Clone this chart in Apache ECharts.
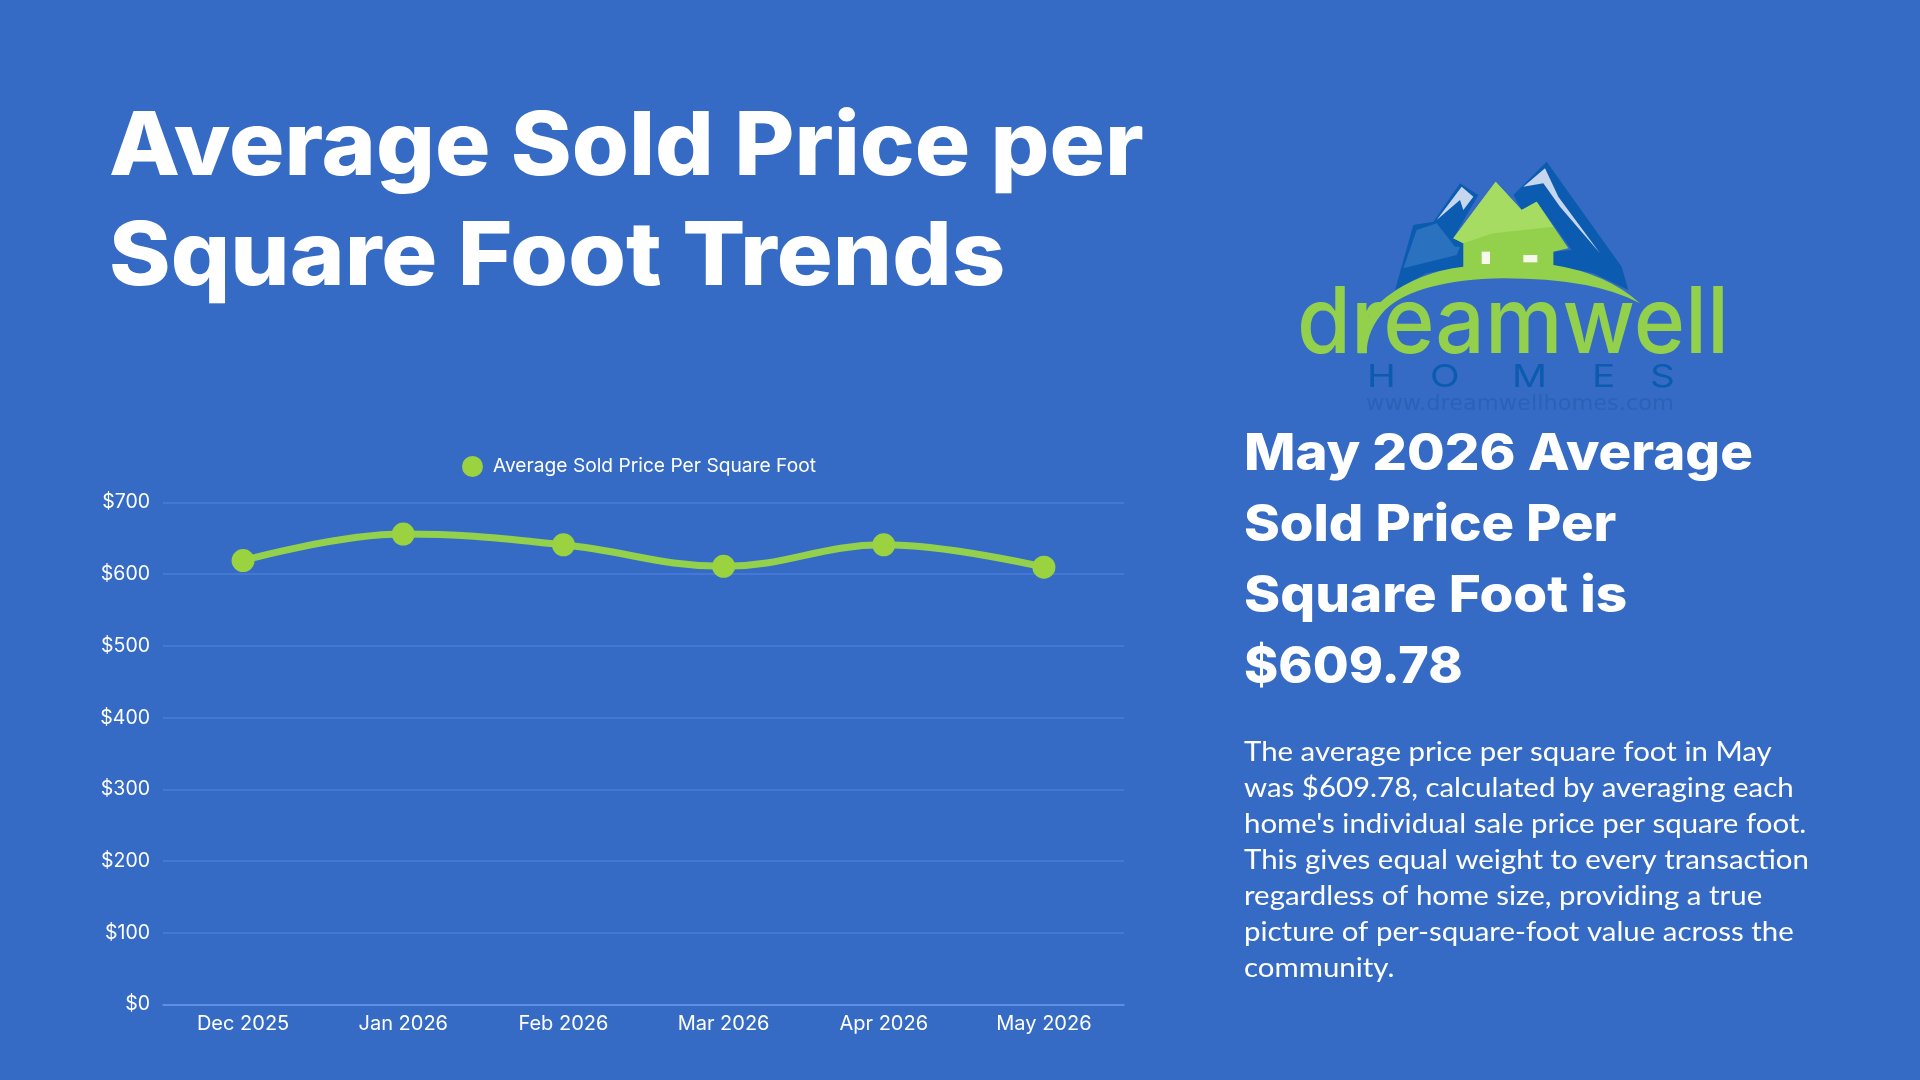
<!DOCTYPE html>
<html><head><meta charset="utf-8">
<script src="https://cdn.jsdelivr.net/npm/echarts@6/dist/echarts.min.js"></script>
<style>html,body{margin:0;padding:0;background:#356BC4;overflow:hidden}#c{width:1920px;height:1080px}</style>
</head><body><div id="c"></div>
<script>
const categories = ['Dec 2025','Jan 2026','Feb 2026','Mar 2026','Apr 2026','May 2026'];
const seriesName = 'Average Sold Price Per Square Foot';
const priceValues = [619, 656, 641, 611, 641, 609.78];
const titleLines = ['Average Sold Price per','Square Foot Trends'];
const headingLines = ['May 2026 Average','Sold Price Per','Square Foot is','$609.78'];
const bodyLines = ['The average price per square foot in May','was $609.78, calculated by averaging each',"home's individual sale price per square foot.",'This gives equal weight to every transaction','regardless of home size, providing a true','picture of per-square-foot value across the','community.'];
const titleWiden=[1.05,1.062], headingWiden=[1.07,1.065,1.075,1.02];
const GREEN='#93D14C', BLUE='#0B5CB0';

echarts.graphic.registerShape('logoSwoosh', echarts.graphic.extendPath('M707 125 L785 210 L830 185 L925 325 L880 335 L880 375 Q1040 400 1140 490 Q1000 415 730 415 Q470 420 375 510 Q320 570 320 640 L295 640 Q290 540 380 470 Q480 395 610 380 L610 310 L580 295 Z',{}));

function textEl(text,x,y,font,fill,sx){return {type:'text',x:x,y:y,scaleX:sx||1,style:{text:text,x:0,y:0,font:font,fill:fill,textVerticalAlign:'middle',textBaseline:'middle'}};}
const graphics=[];
titleLines.forEach((t,i)=>graphics.push(textEl(t,109,149+i*110,'800 88px Inter','#fff',titleWiden[i])));
headingLines.forEach((t,i)=>graphics.push(textEl(t,1244,455+i*71,'800 51px Inter','#fff',headingWiden[i])));
bodyLines.forEach((t,i)=>graphics.push(textEl(t,1244,752+i*36,'400 27px Lato','#fff',1.09)));

const logoChildren=[
 {type:'polygon',shape:{points:[[405,450],[460,255],[520,245],[600,130],[655,165],[580,295],[610,310],[610,380],[500,400]]},style:{fill:BLUE}},
 {type:'polygon',shape:{points:[[760,165],[860,65],[1085,380],[1105,450],[1000,400],[880,375],[880,335],[935,330],[830,185],[785,210]]},style:{fill:BLUE}},
 {type:'polygon',shape:{points:[[530,240],[605,140],[640,170],[610,210],[600,180]]},style:{fill:'#C5D6EE'}},
 {type:'polygon',shape:{points:[[790,140],[855,85],[895,170],[1020,340],[900,200],[850,130]]},style:{fill:'#C5D6EE'}},
 {type:'polygon',shape:{points:[[430,385],[470,270],[530,250],[585,320],[600,320],[590,345]]},style:{fill:'#3F7FCC',opacity:0.6}},
 {type:'logoSwoosh',style:{fill:GREEN}},
 {type:'polygon',shape:{points:[[707,125],[785,210],[830,185],[880,260],[700,280],[610,310],[580,295]]},style:{fill:'#A6DC62'}},
 {type:'rect',shape:{x:665,y:335,width:25,height:37},style:{fill:'#F7F9EC'}},
 {type:'rect',shape:{x:790,y:345,width:42,height:22},style:{fill:'#F7F9EC'}}
];
graphics.push({type:'group',x:1260,y:140,scaleX:1/3,scaleY:1/3,children:logoChildren});
graphics.push(textEl('dreamwell',1297,325,'500 92px Inter',GREEN,0.95));
[['H',1367],['O',1430],['M',1512],['E',1592],['S',1650]].forEach(a=>graphics.push(textEl(a[0],a[1],378,'400 31px Inter',BLUE,1.25)));
graphics.push(textEl('www.dreamwellhomes.com',1366,405,'400 21px "DejaVu Sans"','#2A62B8',1.07));

const chart=echarts.init(document.getElementById('c'),null,{renderer:'canvas'});
chart.setOption({
 animation:false,
 backgroundColor:'#356BC4',
 graphic:graphics,
 legend:{show:true,left:457,top:451,itemWidth:21,itemHeight:21,icon:'circle',
   data:[{name:seriesName,icon:'circle'}],
   textStyle:{color:'#fff',fontFamily:'Inter',fontSize:19.2,padding:[0,0,0,5]}},
 grid:{left:163,top:502.5,width:961,height:502,containLabel:false},
 xAxis:{type:'category',data:categories,boundaryGap:true,
   axisLine:{show:true,lineStyle:{color:'#6A97E4',width:1.5}},axisTick:{show:false},
   axisLabel:{color:'#fff',fontFamily:'Inter',fontSize:20,margin:9}},
 yAxis:{type:'value',min:0,max:700,interval:100,
   axisLine:{show:false},axisTick:{show:false},
   axisLabel:{color:'#fff',fontFamily:'Inter',fontSize:19.5,margin:13,formatter:v=>'$'+v},
   splitLine:{lineStyle:{color:'#4A7DD8',width:1.5}}},
 series:[{name:seriesName,type:'line',data:priceValues,smooth:0.4,symbol:'circle',symbolSize:23,
   lineStyle:{color:'#93D14C',width:7},itemStyle:{color:'#9BD340'}}]
});
</script></body></html>
